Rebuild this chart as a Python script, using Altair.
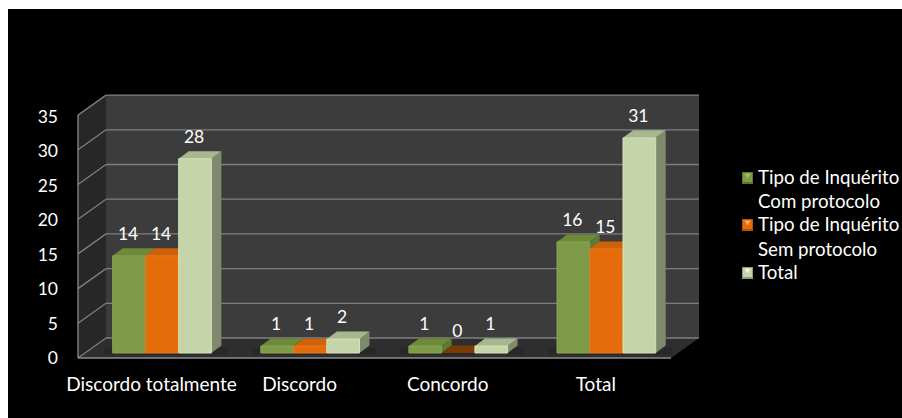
import altair as alt
import pandas as pd

# Survey counts per answer and inquiry type
categories = ["Discordo totalmente", "Discordo", "Concordo", "Total"]
com_protocolo = [14, 1, 1, 16]
sem_protocolo = [14, 1, 0, 15]
total = [28, 2, 1, 31]
series_values = [com_protocolo, sem_protocolo, total]
y_ticks = [0, 5, 10, 15, 20, 25, 30, 35]
legend_lines = ["Tipo de Inquérito", "Com protocolo", "Tipo de Inquérito", "Sem protocolo", "Total"]

# Colours for each series: front, bevel, top, side
FRONT = ["#7f9a48", "#e46c0a", "#c6d4aa"]
BEVEL = ["#8ba552", "#ee7a18", "#d6e3bd"]
TOP = ["#6c8a38", "#cf610a", "#a9b78f"]
SIDE = ["#5f7a33", "#a9520c", "#7f8a6d"]
ZERO_TOP = ["#55691f", "#7a3c05", "#8a9578"]
LEGEND_DARK = ["#5d7530", "#b3560a", "#8f9a7b"]
LEGEND_LIGHT = ["#a6c060", "#fbb261", "#eef4df"]

FONT = "Lato"
W, H = 902, 418
UNIT = 6.94                 # pixels per count on the value axis
FLOOR_Y = 358               # pixel row of the zero line on the front plane
DEPTH_X, DEPTH_Y = 28, 20 / UNIT   # depth of the chart box
BAR_W = 32.7
BAR_STEP = 33
GROUP_START, GROUP_STEP = 112.7, 148.1
BAR_BASE = 0.72             # bars stand slightly behind the front edge
BAR_DX, BAR_DY = 10, 7.5 / UNIT
LEFT, RIGHT = 78, 671
TOP_VALUE = 35


def row(px):
    """Value-scale position of a pixel row."""
    return (FLOOR_Y - px) / UNIT


x_scale = alt.Scale(domain=[0, W], range=[0, W], nice=False, zero=False)
y_scale = alt.Scale(domain=[row(H), row(0)], range=[H, 0], nice=False, zero=False)
X = lambda f: alt.X(f, type="quantitative", scale=x_scale, axis=None)
Y = lambda f: alt.Y(f, type="quantitative", scale=y_scale, axis=None)


def slanted(key, x0, x1, lo0, hi0, lo1, hi1):
    return [
        {"key": key, "px": x0, "lo": lo0, "hi": hi0},
        {"key": key, "px": x1, "lo": lo1, "hi": hi1},
    ]


def polygon_layer(rows, color=None):
    df = pd.DataFrame(rows)
    enc = dict(
        x=X("px"),
        y=alt.Y("lo", type="quantitative", scale=y_scale, axis=None, stack=None),
        y2=alt.Y2("hi"),
        detail="key:N",
    )
    if color is None:
        enc["fill"] = alt.Fill("fill:N", scale=None)
        return alt.Chart(df).mark_area(interpolate="linear", opacity=1).encode(**enc)
    return alt.Chart(df).mark_area(interpolate="linear", color=color, opacity=1).encode(**enc)


def lines_layer(rows, color, width):
    return (
        alt.Chart(pd.DataFrame(rows))
        .mark_rule(color=color, strokeWidth=width)
        .encode(x=X("x0"), x2="x1", y=Y("y0"), y2="y1")
    )


def rect_layer(rows, color):
    return (
        alt.Chart(pd.DataFrame(rows))
        .mark_rect(color=color)
        .encode(x=X("x0"), x2="x1", y=Y("y0"), y2="y1")
    )


def text_layer(rows, **mark):
    return (
        alt.Chart(pd.DataFrame(rows))
        .mark_text(font=FONT, color="#ffffff", baseline="middle", **mark)
        .encode(x=X("px"), y=Y("py"), text="label:N")
    )


layers = []

# Black chart area inside the white sheet
layers.append(rect_layer([{"x0": 8, "x1": W, "y0": row(9), "y1": row(H)}], "#000000"))

# Box: back wall, side wall and floor
layers.append(rect_layer(
    [{"x0": LEFT + DEPTH_X, "x1": RIGHT + DEPTH_X, "y0": DEPTH_Y, "y1": TOP_VALUE + DEPTH_Y}], "#3c3c3c"))
layers.append(polygon_layer(
    slanted("wall", LEFT, LEFT + DEPTH_X, 0, TOP_VALUE, DEPTH_Y, TOP_VALUE + DEPTH_Y), "#272727"))
layers.append(polygon_layer(
    [{"key": "floor", "px": LEFT, "lo": 0, "hi": 0},
     {"key": "floor", "px": LEFT + DEPTH_X, "lo": 0, "hi": DEPTH_Y},
     {"key": "floor", "px": RIGHT, "lo": 0, "hi": DEPTH_Y},
     {"key": "floor", "px": RIGHT + DEPTH_X, "lo": DEPTH_Y, "hi": DEPTH_Y}], "#2e2e2e"))

# Soft contact shadow under each group
shadow_rows = []
for g in range(len(categories)):
    x0 = GROUP_START + g * GROUP_STEP
    shadow_rows += slanted(f"s{g}", x0 - 8, x0 + 3 * BAR_STEP + 16, BAR_BASE - 0.2, BAR_BASE + 0.8,
                           BAR_BASE - 0.2, BAR_BASE + 0.8)
layers.append(polygon_layer(shadow_rows, "#282828"))

# Grid on the walls
grid_rows, wall_rows = [], []
for t in y_ticks:
    grid_rows.append({"x0": LEFT + DEPTH_X, "x1": RIGHT + DEPTH_X, "y0": t + DEPTH_Y, "y1": t + DEPTH_Y})
    wall_rows.append({"x0": LEFT, "x1": LEFT + DEPTH_X, "y0": t, "y1": t + DEPTH_Y})
layers.append(lines_layer(grid_rows, "#7f7f7f", 1.3))
for r in wall_rows:
    layers.append(
        alt.Chart(pd.DataFrame([{"px": r["x0"], "v": r["y0"]}, {"px": r["x1"], "v": r["y1"]}]))
        .mark_line(color="#7f7f7f", strokeWidth=1.3)
        .encode(x=X("px"), y=Y("v"))
    )
layers.append(lines_layer([{"x0": LEFT, "x1": RIGHT, "y0": 0, "y1": 0}], "#8c8c8c", 1.6))
layers.append(lines_layer([{"x0": LEFT, "x1": LEFT, "y0": 0, "y1": TOP_VALUE}], "#8c8c8c", 1.3))

# Bars, series by series so that nearer faces cover the earlier ones
label_rows = []
for s, values in enumerate(series_values):
    tops, sides, fronts = [], [], []
    for g, v in enumerate(values):
        x0 = GROUP_START + g * GROUP_STEP + s * BAR_STEP
        x1 = x0 + BAR_W
        y1 = BAR_BASE + v
        top_fill = TOP[s] if v > 0 else ZERO_TOP[s]
        key = f"t{g}"
        tops += [
            {"key": key, "px": x0, "lo": y1, "hi": y1, "fill": top_fill},
            {"key": key, "px": x0 + BAR_DX, "lo": y1, "hi": y1 + BAR_DY, "fill": top_fill},
            {"key": key, "px": x1, "lo": y1, "hi": y1 + BAR_DY, "fill": top_fill},
            {"key": key, "px": x1 + BAR_DX, "lo": y1 + BAR_DY, "hi": y1 + BAR_DY, "fill": top_fill},
        ]
        if v > 0:
            sides += slanted(f"d{g}", x1, x1 + BAR_DX, BAR_BASE, y1, BAR_BASE + BAR_DY, y1 + BAR_DY)
            fronts.append({"x0": x0, "x1": x1, "y0": BAR_BASE, "y1": y1})
        label_rows.append({"px": x0 + BAR_W / 2 - 1, "py": y1 + 21 / UNIT, "label": str(v)})
    layers.append(polygon_layer(sides, SIDE[s]))
    layers.append(polygon_layer(tops))
    layers.append(
        alt.Chart(pd.DataFrame(fronts))
        .mark_rect(color=FRONT[s], stroke=BEVEL[s], strokeWidth=1)
        .encode(x=X("x0"), x2="x1", y=Y("y0"), y2="y1")
    )

# Value labels
layers.append(text_layer(label_rows, fontSize=17.5, align="center"))

# Category labels
cat_rows = [
    {"px": GROUP_START + g * GROUP_STEP + 38.8, "py": row(385), "label": c}
    for g, c in enumerate(categories)
]
layers.append(text_layer(cat_rows, fontSize=19, align="center"))

# Value axis labels sit just left of the box
tick_rows = [{"px": 58, "py": row(359 - t * 6.89), "label": str(t)} for t in y_ticks]
layers.append(text_layer(tick_rows, fontSize=17.5, align="right"))

# Legend
LEG_X = 758
LEG_ROWS = [178, 202, 225, 250, 273]
layers.append(text_layer(
    [{"px": LEG_X, "py": row(p), "label": t} for p, t in zip(LEG_ROWS, legend_lines)],
    fontSize=18.7, align="left"))
for s, p in enumerate([LEG_ROWS[0], LEG_ROWS[2], LEG_ROWS[4]]):
    layers.append(rect_layer(
        [{"x0": 742, "x1": 753, "y0": row(p - 6), "y1": row(p + 6)}], LEGEND_DARK[s]))
    layers.append(rect_layer(
        [{"x0": 743, "x1": 752, "y0": row(p - 5), "y1": row(p + 4)}], FRONT[s]))
    layers.append(
        alt.Chart(pd.DataFrame([{"px": 747.5, "py": row(p - 2)}]))
        .mark_point(shape="triangle-down", filled=True, size=36, color=LEGEND_LIGHT[s], opacity=1)
        .encode(x=X("px"), y=Y("py"))
    )

chart = (
    alt.layer(*layers)
    .properties(
        width=W,
        height=H,
        padding=0,
        autosize=alt.AutoSizeParams(type="none"),
        background="#ffffff",
    )
    .configure_view(stroke=None)
)

chart.save("out.html", embed_options={"renderer": "svg", "actions": False})
